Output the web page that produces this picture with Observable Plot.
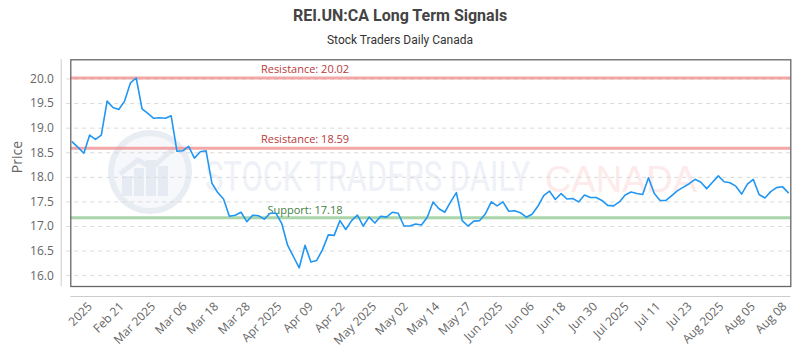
<!DOCTYPE html>
<html>
<head>
<meta charset="utf-8">
<script src="https://cdn.jsdelivr.net/npm/d3@7"></script>
<script src="https://cdn.jsdelivr.net/npm/@observablehq/plot@0.6"></script>
<style>
  html, body { margin: 0; padding: 0; background: #fff; }
  #wrap { position: relative; width: 800px; height: 350px; overflow: hidden; }
  #title { position: absolute; left: 0; top: 0; width: 800px; height: 32px; line-height: 32px; text-align: center;
           font-family: Roboto, sans-serif; font-weight: bold; font-size: 16px; color: #444; }
  #subtitle { position: absolute; left: 0; top: 30px; width: 800px; height: 20px; line-height: 20px; text-align: center;
              font-family: Roboto, sans-serif; font-size: 12px; color: #333; }
  #chart { position: absolute; left: 0; top: 50px; }
  #chart svg { background: transparent; }
</style>
</head>
<body>
<div id="wrap">
  <div id="title">REI.UN:CA Long Term Signals</div>
  <div id="subtitle">Stock Traders Daily Canada</div>
  <div id="chart"></div>
</div>
<script>
// ---- data ----
const prices = [
  18.72, 18.61, 18.49, 18.86, 18.77, 18.86, 19.55, 19.42, 19.38, 19.55,
  19.92, 20.02, 19.39, 19.30, 19.20, 19.21, 19.20, 19.25, 18.53, 18.54,
  18.63, 18.39, 18.52, 18.54, 17.88, 17.69, 17.56, 17.21, 17.23, 17.29,
  17.10, 17.23, 17.22, 17.15, 17.27, 17.27, 17.06, 16.62, 16.39, 16.16,
  16.62, 16.28, 16.31, 16.53, 16.83, 16.82, 17.12, 16.94, 17.12, 17.23,
  17.01, 17.19, 17.07, 17.21, 17.19, 17.29, 17.27, 17.01, 17.01, 17.05,
  17.03, 17.19, 17.50, 17.36, 17.29, 17.50, 17.69, 17.12, 17.01, 17.11,
  17.12, 17.26, 17.50, 17.42, 17.50, 17.31, 17.32, 17.28, 17.19, 17.25,
  17.41, 17.63, 17.72, 17.55, 17.67, 17.56, 17.57, 17.50, 17.64, 17.59,
  17.59, 17.53, 17.43, 17.42, 17.50, 17.64, 17.70, 17.67, 17.65, 17.99,
  17.67, 17.53, 17.53, 17.63, 17.73, 17.80, 17.87, 17.96, 17.90, 17.77,
  17.90, 18.03, 17.91, 17.89, 17.82, 17.66, 17.86, 17.96, 17.65, 17.58,
  17.71, 17.79, 17.81, 17.69
];
const tickLabels = ["2025","Feb 21","Mar 2025","Mar 06","Mar 18","Mar 28","Apr 2025","Apr 09","Apr 22",
  "May 2025","May 02","May 14","May 27","Jun 2025","Jun 06","Jun 18","Jun 30","Jul 2025","Jul 11",
  "Jul 23","Aug 2025","Aug 05","Aug 08"];
const resistanceLevels = [20.02, 18.59];
const supportLevels = [17.18];
const yTicks = [16.0, 16.5, 17.0, 17.5, 18.0, 18.5, 19.0, 19.5, 20.0];

// ---- derived tables ----
const series = prices.map((p, i) => ({i, p}));
const n = prices.length;
const xDomain = [-0.24, n - 1 + 0.45];
const yDomain = [15.78, 20.39];
// x tick labels are evenly spaced across the axis (category-style axis)
const tickStart = 3.1, tickEnd = n - 1.6;
const tickPos = tickLabels.map((_, k) => tickStart + k * (tickEnd - tickStart) / (tickLabels.length - 1));
const tickMap = new Map(tickPos.map((t, k) => [t, tickLabels[k]]));
const labelX = 40;
const resistance = resistanceLevels.map(v => ({v, label: "Resistance: " + v.toFixed(2)}));
const support = supportLevels.map(v => ({v, label: "Support: " + v.toFixed(2)}));

const font = "'Open Sans', sans-serif";

// watermark (decorative, behind the data)
function watermark(index, scales, values, dims) {
  const g = d3.create("svg:g").attr("pointer-events", "none").attr("text-anchor", "start");
  const cx = 150, cy = 122;
  g.append("circle").attr("cx", cx).attr("cy", cy).attr("r", 39).attr("fill", "#f7f8fc")
    .attr("stroke", "#e8ecf3").attr("stroke-width", 6);
  const bars = [[127, 20], [139, 28], [151, 36], [163, 30]];
  for (const [bx, h] of bars) {
    g.append("rect").attr("x", bx - 5).attr("y", cy + 24 - h).attr("width", 10).attr("height", h)
      .attr("fill", "#e6eaf2");
  }
  g.append("path").attr("d", `M${cx-30},${cy+2} L${cx-12},${cy-12} L${cx+2},${cy-4} L${cx+24},${cy-24}`)
    .attr("fill", "none").attr("stroke", "#e6eaf2").attr("stroke-width", 5);
  g.append("g").attr("transform", "translate(205,141) scale(1,1.55)")
    .append("text").attr("x", 0).attr("y", 0).attr("text-anchor", "start")
    .attr("font-family", "Roboto, sans-serif")
    .attr("font-size", 27).attr("fill", "#eef1f7").attr("textLength", 325).attr("lengthAdjust", "spacingAndGlyphs")
    .text("STOCK TRADERS DAILY");
  g.append("text").attr("x", 545).attr("y", 142).attr("text-anchor", "start")
    .attr("font-family", "'Liberation Sans', sans-serif")
    .attr("font-size", 36).attr("fill", "#fdeaea").attr("textLength", 152).attr("lengthAdjust", "spacingAndGlyphs")
    .text("CANADA");
  return g.node();
}

const chart = Plot.plot({
  width: 800,
  height: 300,
  marginTop: 9.3,
  marginLeft: 70.3,
  marginRight: 9.7,
  marginBottom: 64,
  style: {fontFamily: font, fontSize: "12px", color: "#666", background: "transparent"},
  x: {domain: xDomain, axis: null, label: null},
  y: {domain: yDomain, axis: null, label: null},
  marks: [
    watermark,
    Plot.ruleY(yTicks, {stroke: "#d9d9d9", strokeDasharray: "4,4", insetLeft: -4}),
    Plot.ruleY(resistance, {y: "v", stroke: "#f08a8a", strokeOpacity: 0.75, strokeWidth: 3}),
    Plot.ruleY(support, {y: "v", stroke: "#7cbf7c", strokeOpacity: 0.65, strokeWidth: 3}),
    Plot.text(resistance, {x: () => labelX, y: "v", text: "label", lineAnchor: "bottom", dy: -5,
      fill: "#b83a3a", fontSize: 11, fontFamily: font}),
    Plot.text(support, {x: () => labelX, y: "v", text: "label", lineAnchor: "bottom", dy: -4,
      fill: "#3f7f3f", fontSize: 11, fontFamily: font}),
    Plot.line(series, {x: "i", y: "p", stroke: "#2196f3", strokeWidth: 1.6}),
    Plot.frame({stroke: "#666", strokeWidth: 1.3}),
    Plot.ruleX([xDomain[0]], {y1: yDomain[0], y2: yDomain[1], dx: -9.6, stroke: "#ccc"}),
    Plot.ruleY([yDomain[0]], {x1: xDomain[0], x2: xDomain[1], dy: 10, stroke: "#ccc"}),
    Plot.axisY(yTicks, {tickSize: 0, tickPadding: 17, tickFormat: d3.format(".1f"), fontSize: 12, fill: "#666", label: null}),
    Plot.axisX(tickPos, {tickSize: 0, tickPadding: 18, tickRotate: -45, tickFormat: d => tickMap.get(d),
      fontSize: 12, fill: "#666", label: null}),
    Plot.text(["Price"], {frameAnchor: "left", rotate: -90, dx: -53, fontSize: 14, fill: "#666", fontFamily: font})
  ]
});
document.getElementById("chart").appendChild(chart);
</script>
</body>
</html>
